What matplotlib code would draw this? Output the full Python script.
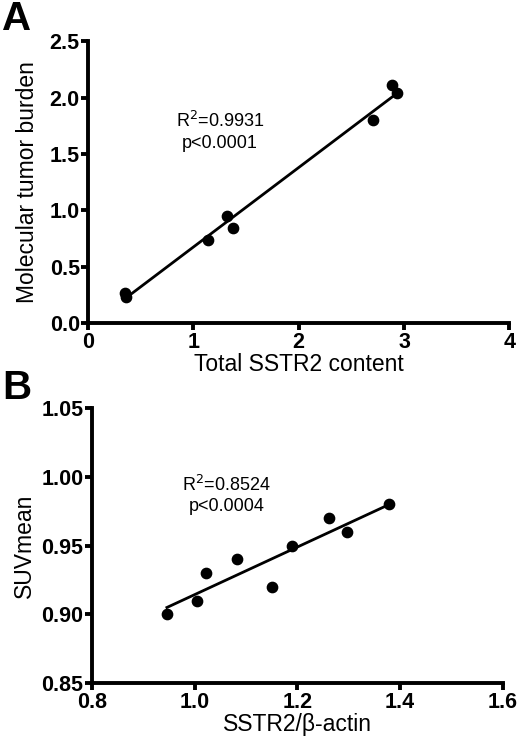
import numpy as np
import matplotlib

matplotlib.use("Agg")
import matplotlib.pyplot as plt

# panel A: total SSTR2 content vs molecular tumor burden
a_sstr2 = [0.35, 0.36, 1.14, 1.315, 1.38, 2.71, 2.89, 2.93]
a_burden = [0.27, 0.23, 0.74, 0.955, 0.84, 1.80, 2.11, 2.04]
a_xticks = [0, 1, 2, 3, 4]
a_yticks = [0.0, 0.5, 1.0, 1.5, 2.0, 2.5]

# panel B: SSTR2/beta-actin vs SUVmean
b_ratio = [0.946, 1.005, 1.023, 1.082, 1.150, 1.189, 1.262, 1.297, 1.378]
b_suv = [0.90, 0.91, 0.93, 0.94, 0.92, 0.95, 0.97, 0.96, 0.98]
b_xticks = [0.8, 1.0, 1.2, 1.4, 1.6]
b_yticks = [0.85, 0.90, 0.95, 1.00, 1.05]

plt.rcParams["font.family"] = ["Liberation Sans", "DejaVu Sans"]

fig = plt.figure(figsize=(5.25, 7.5), dpi=100)


def panel(rect, xs, ys, xticks, yticks, xfmt, yfmt, xlabel, ylabel, note, note_xy, ypad):
    ax = fig.add_axes(rect)
    ax.scatter(xs, ys, s=55, color="black", zorder=3, clip_on=False)
    slope, icpt = np.polyfit(xs, ys, 1)
    line_x = np.array([min(xs), max(xs)])
    ax.plot(line_x, slope * line_x + icpt, color="black", lw=2)
    ax.set_xlim(xticks[0], xticks[-1])
    ax.set_ylim(yticks[0], yticks[-1])
    ax.set_xticks(xticks, [xfmt.format(v) for v in xticks])
    ax.set_yticks(yticks, [yfmt.format(v) for v in yticks])
    for side in ("top", "right"):
        ax.spines[side].set_visible(False)
    for side in ("left", "bottom"):
        ax.spines[side].set_linewidth(2.8)
    ax.tick_params(width=2.8, length=5, labelsize=15.5, pad=1)
    for lab in ax.get_xticklabels() + ax.get_yticklabels():
        lab.set_fontweight("bold")
    ax.set_xlabel(xlabel, fontsize=16.5, labelpad=0)
    ax.set_ylabel(ylabel, fontsize=16.5, labelpad=ypad)
    ax.text(*note_xy, note, ha="center", va="center", fontsize=13, linespacing=1.25)
    return ax


panel([0.168, 0.569, 0.802, 0.376], a_sstr2, a_burden, a_xticks, a_yticks,
      "{:.0f}", "{:.1f}", "Total SSTR2 content", "Molecular tumor burden",
      "R$^2$=0.9931\np<0.0001", (1.25, 1.70), 8)
panel([0.175, 0.089, 0.783, 0.367], b_ratio, b_suv, b_xticks, b_yticks,
      "{:.1f}", "{:.2f}", "SSTR2/β-actin", "SUVmean",
      "R$^2$=0.8524\np<0.0004", (1.062, 0.987), 4)

fig.text(0.004, 1.0, "A", fontsize=29, fontweight="bold", va="top")
fig.text(0.004, 0.508, "B", fontsize=29, fontweight="bold", va="top")

fig.savefig("out.png", dpi=100)
